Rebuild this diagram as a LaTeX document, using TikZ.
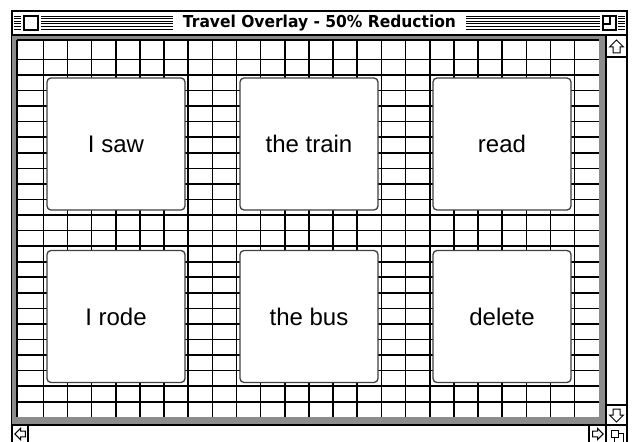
\documentclass[tikz,border=0pt]{standalone}
\usepackage{fontspec}
\setmainfont{Liberation Sans}
\newfontfamily\titlefont{DejaVu Sans}
\tikzset{
  gridline/.style={line width=1.6bp},
  card/.style={draw=black!75, line width=1.3bp, fill=white, rounded corners=4bp,
    minimum width=138bp, minimum height=132bp, inner sep=0pt,
    font=\fontsize{24bp}{28bp}\selectfont},
  dither/.style={fill=black!45},
  frame/.style={line width=1.1bp},
  stripe/.style={line width=0.9bp},
  scrollarr/.pic={
    \draw[line width=1bp, fill=white] (0,-7) -- (7,0) -- (3.5,0) -- (3.5,6)
      -- (-3.5,6) -- (-3.5,0) -- (-7,0) -- cycle;
  }
}
\begin{document}
\begin{tikzpicture}[x=1bp, y=-1bp]
      \useasboundingbox[fill=white] (0,0) rectangle (633,442);
      % Window frame and title bar
      \draw[frame, fill=white] (12,11) rectangle (627,450);
      \draw[frame] (12,35) -- (627,35);
      \foreach \k in {0,...,5} {
        \draw[stripe] (14,{16+2.6*\k}) -- (625,{16+2.6*\k});
      }
      \node[fill=white, inner xsep=9.5bp, minimum height=20bp, font=\titlefont\bfseries]
        (title) at (319.5,23) {\resizebox{273bp}{12.5bp}{Travel Overlay - 50\% Reduction}};
      \fill[white] (21,14) rectangle (41,32);
      \draw[frame] (24,16) rectangle (38,30);
      \fill[white] (600,14) rectangle (618,32);
      \draw[frame] (603,16) rectangle (616,30);
      \draw[frame] (603,24) -- (610,24) -- (610,16);
      % Grey border and grid
      \fill[dither] (12,35.6) rectangle (606,425);
      \fill[white] (17,40) rectangle (599,417);
      \foreach \i in {0,...,22} {
        \draw[gridline] ({43.3+24.15*\i},40) -- ({43.3+24.15*\i},417);
      }
      \foreach \j in {-1,...,21} {
        \draw[gridline] (17,{75+15.56*\j}) -- (599,{75+15.56*\j});
      }
      \draw[gridline] (17,40) -- (599,40);
      \draw[gridline] (17,40) -- (17,417);
      % Scroll bars
      \draw[frame, fill=white] (606,35.6) rectangle (627,425);
      \draw[frame] (606,57) -- (627,57);
      \draw[frame] (606,405) -- (627,405);
      \pic at (616.5,47) {scrollarr};
      \pic[rotate=180] at (616.5,415) {scrollarr};
      \draw[frame, fill=white] (12,425) rectangle (627,450);
      \draw[frame] (28,425) -- (28,450);
      \draw[frame] (589,425) -- (589,450);
      \draw[frame] (606,425) -- (606,450);
      \pic[rotate=90, scale=0.8] at (20.5,434) {scrollarr};
      \pic[rotate=-90, scale=0.8] at (597.5,434) {scrollarr};
      \draw[line width=0.9bp, fill=white] (611,430) rectangle (618,437);
      \draw[line width=0.9bp] (614,437) -- (614,442) -- (623,442) -- (623,433) -- (618,433);
      % Word cards
      \node[card] (saw) at (116,144) {I saw};
      \node[card] (train) at (309,144) {the train};
      \node[card] (read) at (502,144) {read};
      \node[card] (rode) at (116,316.5) {I rode};
      \node[card] (bus) at (309,316.5) {the bus};
      \node[card] (delete) at (502,316.5) {delete};
\end{tikzpicture}
\end{document}
